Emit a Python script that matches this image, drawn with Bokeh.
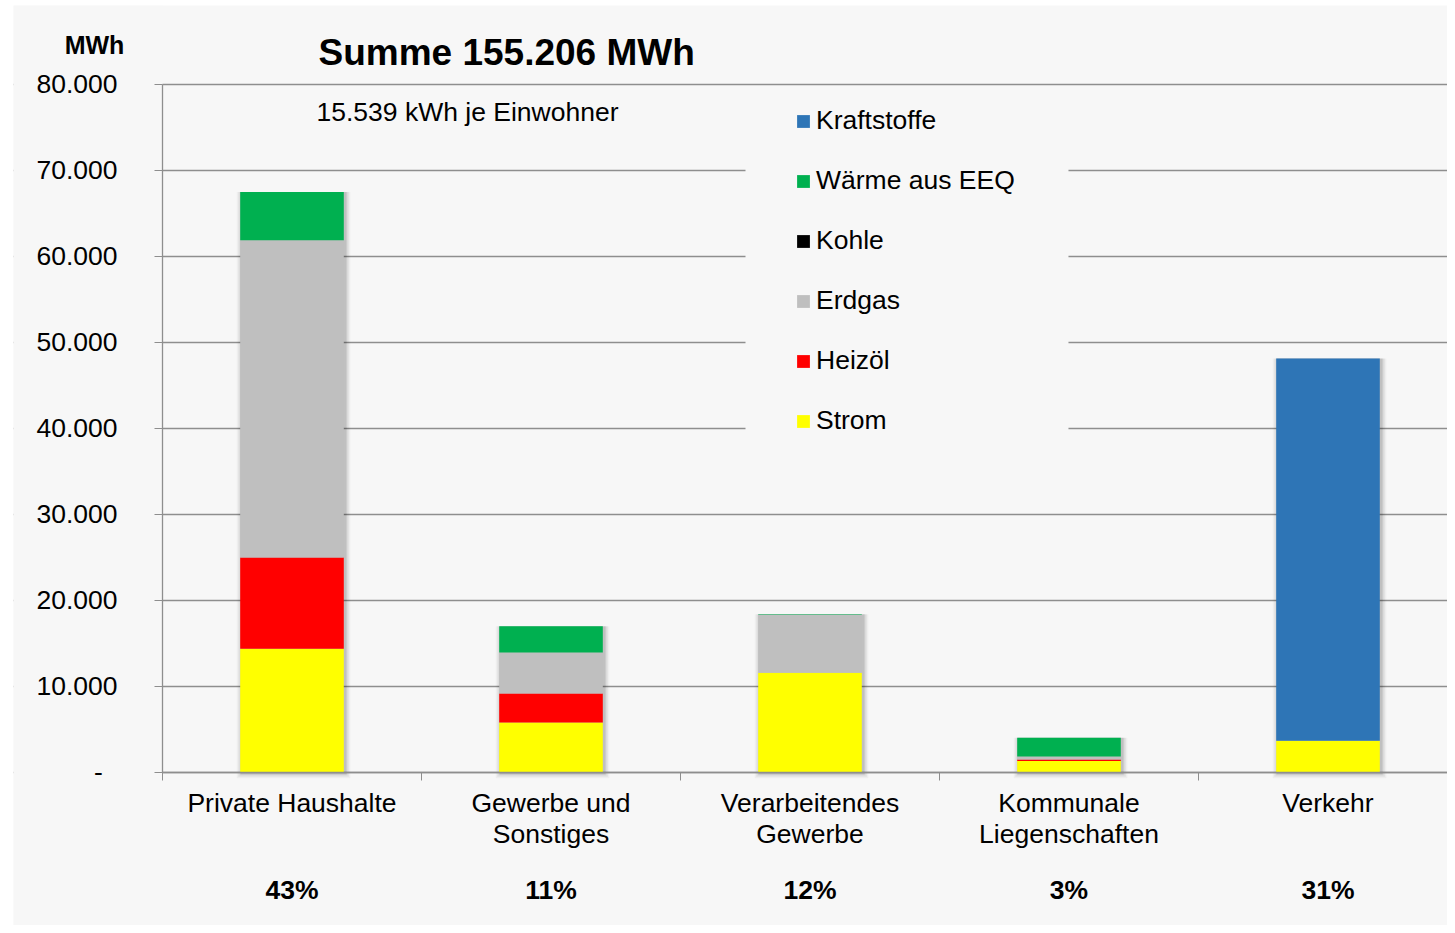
from bokeh.plotting import figure
from bokeh.models import (Range1d, FixedTicker, LinearAxis, Legend, LegendItem,
                          Label, BoxAnnotation, ColumnDataSource, Grid)
from bokeh.embed import file_html
from bokeh.resources import INLINE

# ---- data ----
categories = ["Private Haushalte", "Gewerbe und\nSonstiges", "Verarbeitendes\nGewerbe",
              "Kommunale\nLiegenschaften", "Verkehr"]
shares = ["43%", "11%", "12%", "3%", "31%"]
series = ["Strom", "Heizöl", "Erdgas", "Kohle", "Wärme aus EEQ", "Kraftstoffe"]
strom = [14400, 5800, 11600, 1350, 3700]
heizoel = [10600, 3400, 0, 150, 0]
erdgas = [36900, 4750, 6750, 350, 0]
kohle = [0, 0, 0, 0, 0]
waerme = [5600, 3050, 60, 2200, 0]
kraftstoffe = [0, 0, 0, 0, 44450]
colors = ["#FFFF00", "#FF0000", "#BFBFBF", "#000000", "#00B050", "#2E75B6"]
y_ticks = [0, 10000, 20000, 30000, 40000, 50000, 60000, 70000, 80000]
title_text = "Summe 155.206 MWh"
subtitle_text = "15.539 kWh je Einwohner"
unit_text = "MWh"

FONT = "Liberation Sans"
BG = "#f7f7f7"
GRID = "#8e8e8e"
FS = "26.5px"

n = len(categories)
xs = [i + 0.5 for i in range(n)]
data = dict(x=xs, Strom=strom, Heizöl=heizoel, Erdgas=erdgas, Kohle=kohle)
data["Wärme aus EEQ"] = waerme
data["Kraftstoffe"] = kraftstoffe
totals = [sum(v) for v in zip(strom, heizoel, erdgas, kohle, waerme, kraftstoffe)]
data["total"] = totals
data["xs_shadow"] = [x + 0.006 for x in xs]
source = ColumnDataSource(data)

# frame covers the whole chart area; axes are pinned at x=0 / y=0
p = figure(width=1447, height=925, output_backend="svg", toolbar_location=None,
           x_range=Range1d(-0.5753, 4.9614), y_range=Range1d(-17791, 89186),
           min_border_left=13, min_border_right=0, min_border_top=5,
           min_border_bottom=0, x_axis_type=None, y_axis_type=None)
p.background_fill_color = BG
p.border_fill_color = "white"
p.outline_line_color = None

# grid
p.add_layout(Grid(dimension=1, ticker=FixedTicker(ticks=y_ticks),
                  grid_line_color=GRID, grid_line_width=1.3))
# hide grid lines left of the value axis
p.add_layout(BoxAnnotation(right=0, fill_color=BG, fill_alpha=1.0, line_alpha=0,
                           level="underlay"))
# legend background box
p.add_layout(BoxAnnotation(left=2.251, right=3.498, bottom=37440, top=78720,
                           fill_color=BG, fill_alpha=1.0, line_alpha=0, level="underlay"))

# y axis
yax = LinearAxis(ticker=FixedTicker(ticks=y_ticks), fixed_location=0, bounds=(0, 80000))
yax.major_label_overrides = {t: ("-\u00a0\u00a0" if t == 0 else f"{t:,}".replace(",", ".")) for t in y_ticks}
yax.major_label_text_font = FONT
yax.major_label_text_font_size = FS
yax.major_label_text_color = "black"
yax.major_label_standoff = 37
yax.major_tick_out = 8
yax.major_tick_in = 0
yax.minor_tick_out = 0
yax.minor_tick_in = 0
yax.axis_line_color = GRID
yax.major_tick_line_color = GRID
yax.axis_line_width = 1.3
p.add_layout(yax, "left")

# x axis (category names)
xax = LinearAxis(ticker=FixedTicker(ticks=xs, minor_ticks=list(range(n + 1))),
                 fixed_location=0, bounds=(0, n))
xax.major_label_overrides = {x: c for x, c in zip(xs, categories)}
xax.major_label_text_font = FONT
xax.major_label_text_font_size = FS
xax.major_label_text_line_height = 1.03
xax.major_label_text_color = "black"
xax.major_label_standoff = 8
xax.major_tick_out = 0
xax.major_tick_in = 0
xax.minor_tick_out = 8
xax.minor_tick_in = 0
xax.minor_tick_line_color = GRID
xax.axis_line_color = GRID
xax.axis_line_width = 1.3
p.add_layout(xax, "below")

# x axis (percent shares)
pax = LinearAxis(ticker=FixedTicker(ticks=xs, minor_ticks=[]), fixed_location=0, bounds=(0, n))
pax.major_label_overrides = {x: s for x, s in zip(xs, shares)}
pax.major_label_text_font = FONT
pax.major_label_text_font_size = FS
pax.major_label_text_font_style = "bold"
pax.major_label_text_color = "black"
pax.major_label_standoff = 103
pax.major_tick_out = 0
pax.major_tick_in = 0
pax.axis_line_color = None
p.add_layout(pax, "below")

# soft shadows (layered, slightly offset to the lower right)
px_x = 1 / 259.0
px_y = 10000 / 86.0
for grow, alpha in [(5, 0.035), (3.5, 0.05), (2, 0.07), (1, 0.08)]:
    p.vbar(x="xs_shadow", top="total", bottom=-grow * px_y - 100,
           width=0.4 + 2 * grow * px_x, source=source,
           fill_color="black", fill_alpha=alpha, line_alpha=0)

rs = p.vbar_stack(series, x="x", width=0.4, color=colors, source=source, line_alpha=0)

legend = Legend(items=[LegendItem(label=s, renderers=[r]) for s, r in reversed(list(zip(series, rs)))],
                location=(782, 489))
legend.label_text_font = FONT
legend.label_text_font_size = FS
legend.label_text_color = "black"
legend.glyph_width = 16
legend.glyph_height = 16
legend.label_height = 30
legend.spacing = 29
legend.padding = 15
legend.margin = 0
legend.label_standoff = 5
legend.background_fill_alpha = 0
legend.border_line_color = None
p.add_layout(legend, "center")

p.add_layout(Label(x=305, y=873, x_units="screen", y_units="screen", text=title_text,
                   text_font=FONT, text_font_size="37px", text_font_style="bold",
                   text_baseline="middle", text_color="black"))
p.add_layout(Label(x=81, y=881, x_units="screen", y_units="screen", text=unit_text,
                   text_font=FONT, text_font_size="25px", text_font_style="bold",
                   text_baseline="middle", text_align="center", text_color="black"))
p.add_layout(Label(x=303, y=814, x_units="screen", y_units="screen", text=subtitle_text,
                   text_font=FONT, text_font_size=FS,
                   text_baseline="middle", text_color="black"))

open("out.html", "w").write(file_html(p, INLINE))
